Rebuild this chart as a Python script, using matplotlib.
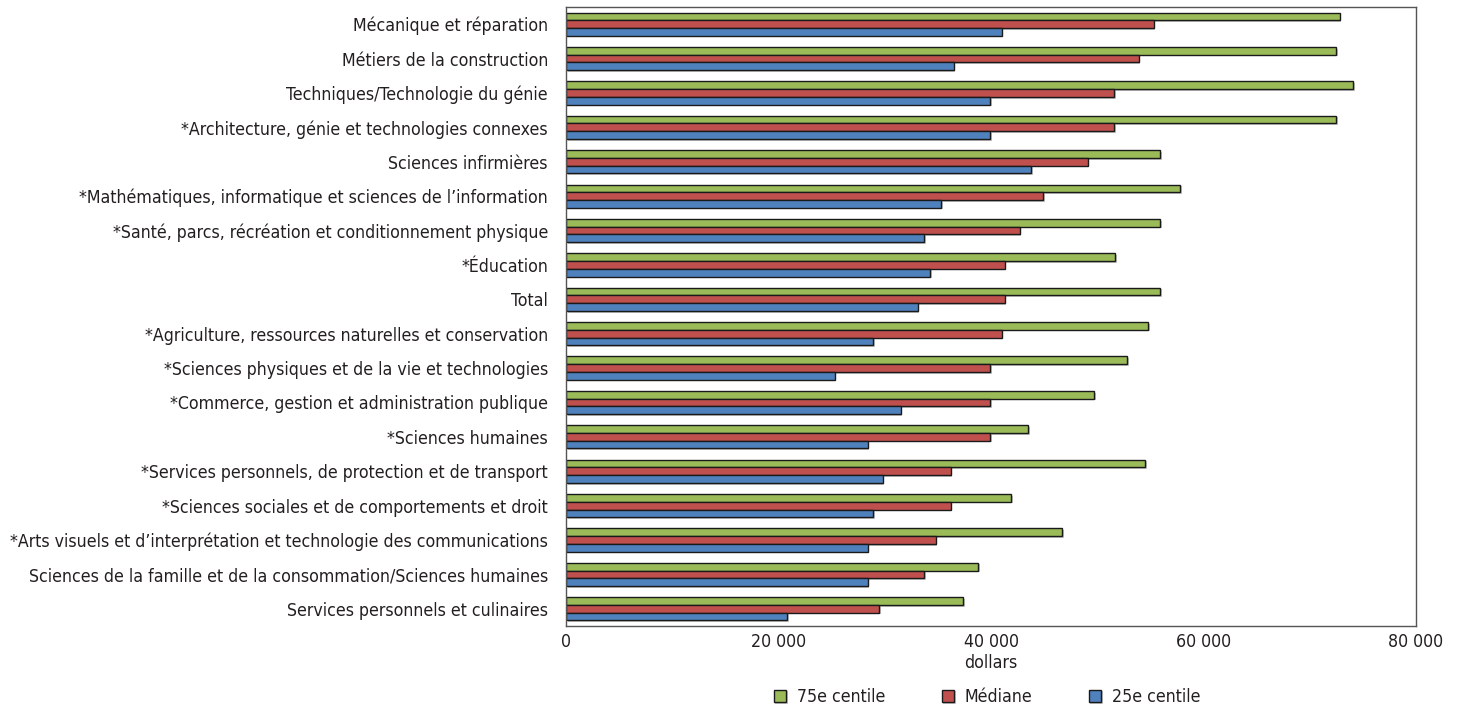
import matplotlib.pyplot as plt
import matplotlib.patheffects as pe
from matplotlib import font_manager
import numpy as np
from matplotlib.ticker import FuncFormatter

# Choose a narrow font if one is installed
names = {f.name for f in font_manager.fontManager.ttflist}
stretches = {(f.name, f.stretch) for f in font_manager.fontManager.ttflist}
font_size = 12.5
if 'Liberation Sans Narrow' in names:
    plt.rcParams['font.family'] = ['Liberation Sans Narrow', 'DejaVu Sans']
elif ('DejaVu Sans', 'condensed') in stretches or 'DejaVu Sans Condensed' in names:
    plt.rcParams['font.family'] = ['DejaVu Sans']
    plt.rcParams['font.stretch'] = 'condensed'
    font_size = 12
else:
    plt.rcParams['font.family'] = ['Liberation Sans', 'DejaVu Sans']
    font_size = 11.5
font_size *= 1.06

# Data (dollars)
categories = [
    "Mécanique et réparation",
    "Métiers de la construction",
    "Techniques/Technologie du génie",
    "*Architecture, génie et technologies connexes",
    "Sciences infirmières",
    "*Mathématiques, informatique et sciences de l\u2019information",
    "*Santé, parcs, récréation et conditionnement physique",
    "*Éducation",
    "Total",
    "*Agriculture, ressources naturelles et conservation",
    "*Sciences physiques et de la vie et technologies",
    "*Commerce, gestion et administration publique",
    "*Sciences humaines",
    "*Services personnels, de protection et de transport",
    "*Sciences sociales et de comportements et droit",
    "*Arts visuels et d\u2019interprétation et technologie des communications",
    "Sciences de la famille et de la consommation/Sciences humaines",
    "Services personnels et culinaires",
]
p75 = [72800, 72500, 74100, 72500, 55900, 57800, 55900, 51700, 55900,
       54800, 52800, 49700, 43500, 54500, 41900, 46700, 38800, 37400]
median = [55300, 53900, 51600, 51600, 49100, 44900, 42700, 41300, 41300,
          41000, 39900, 39900, 39900, 36200, 36200, 34800, 33700, 29500]
p25 = [41000, 36500, 39900, 39900, 43800, 35300, 33700, 34300, 33100,
       28900, 25300, 31500, 28400, 29800, 28900, 28400, 28400, 20800]
series_labels = ['75e centile', 'Médiane', '25e centile']
colors = ['#9BBB59', '#C0504D', '#4F81BD']

fig = plt.figure(figsize=(14.6, 7.08), dpi=100)
ax = fig.add_axes([566 / 1460, 1 - 626 / 708, 850 / 1460, 619 / 708])

y = np.arange(len(categories))
h = 0.225
shadow = [pe.SimplePatchShadow(offset=(1.2, -1.2), shadow_rgbFace='#888888', alpha=0.5), pe.Normal()]
handles = []
for i, (vals, lab, c) in enumerate(zip([p75, median, p25], series_labels, colors)):
    bars = ax.barh(y + (i - 1) * h, vals, height=h, color=c, edgecolor='#1a1a1a',
                   linewidth=1.0, label=lab, path_effects=shadow)
    handles.append(bars)

ax.set_ylim(len(categories) - 0.5, -0.5)
ax.set_xlim(0, 80000)
ax.set_xticks(np.arange(0, 80001, 20000))
ax.xaxis.set_major_formatter(FuncFormatter(lambda v, p: f"{int(v):,}".replace(",", " ")))
ax.set_yticks(y)
ax.set_yticklabels(categories, fontsize=font_size, color='#231f20')
ax.tick_params(axis='both', length=0, pad=13)
ax.tick_params(axis='x', labelsize=font_size, colors='#231f20', pad=5)
for s in ax.spines.values():
    s.set_color('#555555')
    s.set_linewidth(1.0)

ax.set_xlabel('dollars', fontsize=font_size, color='#231f20', labelpad=2)

leg = fig.legend(handles=handles, labels=series_labels, loc='center',
                 bbox_to_anchor=(987 / 1460, 1 - 697 / 708), ncol=3, frameon=False,
                 fontsize=font_size, handlelength=0.7, handleheight=0.7, columnspacing=3.2,
                 handletextpad=0.6)
for t in leg.get_texts():
    t.set_color('#231f20')

plt.savefig('out.png', dpi=100)
